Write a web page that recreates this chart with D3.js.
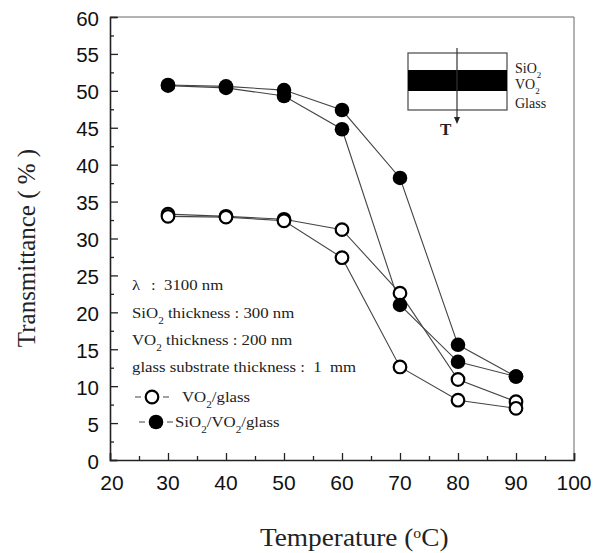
<!DOCTYPE html>
<html>
<head>
<meta charset="utf-8">
<script src="https://cdn.jsdelivr.net/npm/d3@7"></script>
<style>
  body { margin: 0; background: #fff; }
  svg { display: block; }
  text { white-space: pre; }
</style>
</head>
<body>
<div id="chart"></div>
<script>
// temperatures (°C) for every series
let temps = [30, 40, 50, 60, 70, 80, 90];
// two runs per sample
let openRunA = [33.3, 33.0, 32.6, 31.2, 22.6, 10.9, 7.9];
let openRunB = [33.0, 32.9, 32.4, 27.4, 12.6, 8.1, 7.0];
let filledRunA = [50.8, 50.6, 50.1, 47.4, 38.2, 15.6, 11.3];
let filledRunB = [50.7, 50.4, 49.3, 44.8, 21.0, 13.3, 11.3];

let xTicks = [20, 30, 40, 50, 60, 70, 80, 90, 100];
let yTicks = [0, 5, 10, 15, 20, 25, 30, 35, 40, 45, 50, 55, 60];

let width = 594, height = 553;
let margin = { top: 17, right: 20, bottom: 93, left: 110 };

let x = d3.scaleLinear().domain([20, 100]).range([margin.left, width - margin.right]);
let y = d3.scaleLinear().domain([0, 60]).range([height - margin.bottom, margin.top]);

let svg = d3.select("#chart").append("svg")
  .attr("width", width)
  .attr("height", height);

let serif = "'Liberation Serif', 'Times New Roman', serif";
let sans = "'Liberation Sans', Arial, sans-serif";

// frame (top + right)
svg.append("path")
  .attr("d", `M${x(20)},${y(60)}H${x(100)}V${y(0)}`)
  .attr("fill", "none")
  .attr("stroke", "#666")
  .attr("stroke-width", 1);

// axes with inward ticks
let xAxis = svg.append("g")
  .attr("transform", `translate(0,${y(0)})`)
  .call(d3.axisBottom(x).tickValues(d3.range(20, 101, 5)).tickSize(-7).tickFormat(""));
xAxis.selectAll(".tick line")
  .attr("y2", (d) => d % 10 === 0 ? -7 : -4);
let yAxis = svg.append("g")
  .attr("transform", `translate(${x(20)},0)`)
  .call(d3.axisLeft(y).tickValues(d3.range(0, 60.1, 2.5)).tickSize(-7).tickFormat(""));
yAxis.selectAll(".tick line")
  .attr("x2", (d) => d % 5 === 0 ? 8 : 4);
[xAxis, yAxis].forEach((g) => {
  g.select(".domain").attr("stroke", "#222").attr("stroke-width", 1.6);
  g.selectAll(".tick line").attr("stroke", "#222").attr("stroke-width", 1.3);
});

// tick labels
svg.append("g").selectAll("text")
  .data(xTicks).enter().append("text")
  .attr("x", (d) => x(d) + (d === 20 ? 2 : 0))
  .attr("y", y(0) + 30)
  .attr("text-anchor", "middle")
  .attr("font-family", sans)
  .attr("font-size", 21)
  .attr("fill", "#111")
  .text((d) => d);
svg.append("g").selectAll("text")
  .data(yTicks).enter().append("text")
  .attr("x", x(20) - 11)
  .attr("y", (d) => y(d) + 8.5)
  .attr("text-anchor", "end")
  .attr("font-family", sans)
  .attr("font-size", 20.5)
  .attr("fill", "#111")
  .text((d) => d);

// axis titles
svg.append("text")
  .attr("transform", `translate(35,248) rotate(-90)`)
  .attr("text-anchor", "middle")
  .attr("font-family", serif)
  .attr("font-size", 25)
  .attr("fill", "#222")
  .text("Transmittance ( % )");
let xt = svg.append("text")
  .attr("transform", "translate(260,546) scale(1.05,1)")
  .attr("font-family", serif)
  .attr("font-size", 26)
  .attr("fill", "#222");
xt.append("tspan").text("Temperature (");
xt.append("tspan").attr("baseline-shift", "super").attr("font-size", 15).text("o");
xt.append("tspan").text("C)");

// lines + markers
let line = d3.line().x((d, i) => x(temps[i])).y((d) => y(d));
let series = [
  { vals: openRunA, filled: false },
  { vals: openRunB, filled: false },
  { vals: filledRunA, filled: true },
  { vals: filledRunB, filled: true }
];
series.forEach((s) => {
  svg.append("path")
    .datum(s.vals)
    .attr("d", line)
    .attr("fill", "none")
    .attr("stroke", "#444")
    .attr("stroke-width", 1.1);
});
series.forEach((s) => {
  svg.append("g").selectAll("circle")
    .data(s.vals).enter().append("circle")
    .attr("cx", (d, i) => x(temps[i]))
    .attr("cy", (d) => y(d))
    .attr("r", s.filled ? 7.3 : 6.3)
    .attr("fill", s.filled ? "#000" : "#fff")
    .attr("stroke", "#000")
    .attr("stroke-width", s.filled ? 0 : 2.2);
});

// annotation text (slightly wide serif, like the scan)
function note(xPos, yPos, parts) {
  let t = svg.append("text")
    .attr("transform", `translate(${xPos},${yPos}) scale(1.12,1)`)
    .attr("font-family", serif)
    .attr("font-size", 15)
    .attr("fill", "#222");
  parts.forEach((p) => {
    let ts = t.append("tspan").text(p);
    if (p === "2") ts.attr("baseline-shift", "sub").attr("font-size", 10);
  });
}
note(132, 290, ["λ"]);
note(151, 290, [":  3100 nm"]);
note(132, 318, ["SiO", "2", " thickness : 300 nm"]);
note(132, 345, ["VO", "2", " thickness : 200 nm"]);
note(132, 372, ["glass substrate thickness :  1  mm"]);

// legend
let legend = [
  { label: ["VO", "2", "/glass"], filled: false, y: 399, cx: 152, tx: 182 },
  { label: ["SiO", "2", "/VO", "2", "/glass"], filled: true, y: 424, cx: 156, tx: 175 }
];
legend.forEach((l) => {
  svg.append("line")
    .attr("x1", l.cx - 17).attr("x2", l.cx + 17)
    .attr("y1", l.y - 2).attr("y2", l.y - 2)
    .attr("stroke", "#444").attr("stroke-width", 1.1);
  svg.append("rect")
    .attr("x", l.cx - 11).attr("y", l.y - 5)
    .attr("width", 22).attr("height", 6)
    .attr("fill", "#fff");
  svg.append("circle")
    .attr("cx", l.cx).attr("cy", l.y - 2)
    .attr("r", l.filled ? 7.3 : 6.3)
    .attr("fill", l.filled ? "#000" : "#fff")
    .attr("stroke", "#000")
    .attr("stroke-width", l.filled ? 0 : 2.2);
  note(l.tx, l.y + 3, l.label);
});

// inset: layer stack diagram
let inset = svg.append("g");
inset.append("rect")
  .attr("x", 408).attr("y", 53).attr("width", 99).attr("height", 57)
  .attr("fill", "#fff").attr("stroke", "#555").attr("stroke-width", 1.3);
inset.append("rect")
  .attr("x", 408).attr("y", 70).attr("width", 99).attr("height", 21)
  .attr("fill", "#000");
inset.append("line")
  .attr("x1", 457).attr("x2", 457).attr("y1", 48).attr("y2", 122)
  .attr("stroke", "#333").attr("stroke-width", 1.2);
inset.append("path")
  .attr("d", "M454,117L460,117L457,124Z")
  .attr("fill", "#222");
inset.append("text")
  .attr("x", 440).attr("y", 135)
  .attr("font-family", serif).attr("font-size", 17).attr("font-weight", "bold")
  .attr("fill", "#222")
  .text("T");
let layerLabels = [["SiO", "2"], ["VO", "2"], ["Glass"]];
let layerY = [73, 89, 108];
layerLabels.forEach((parts, i) => {
  let t = inset.append("text")
    .attr("x", 515).attr("y", layerY[i])
    .attr("font-family", serif).attr("font-size", 14)
    .attr("fill", "#222");
  parts.forEach((p) => {
    let ts = t.append("tspan").text(p);
    if (p === "2") ts.attr("baseline-shift", "sub").attr("font-size", 9);
  });
});
</script>
</body>
</html>
